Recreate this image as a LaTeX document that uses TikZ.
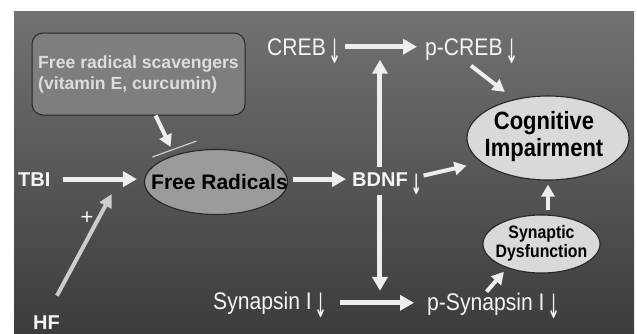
\documentclass[tikz,border=0pt]{standalone}
\usepackage{fontspec}
\usepackage{graphicx}
\setmainfont{Liberation Sans}
\newfontfamily\condfont{Liberation Sans}[FakeStretch=0.88]
\newfontfamily\symfont{DejaVu Sans}
\usetikzlibrary{arrows.meta,shapes.geometric,calc}
\definecolor{bgtop}{HTML}{727272}
\definecolor{bgbot}{HTML}{3C3C3C}
\definecolor{arrowc}{HTML}{EEEEEE}
\definecolor{hfc}{HTML}{CDCDCD}
\definecolor{txtc}{HTML}{F4F4F4}
\definecolor{scavfill}{HTML}{7E7E7E}
\definecolor{scavtxt}{HTML}{DDDDDD}
\definecolor{frfill}{HTML}{9B9B9B}
\definecolor{cogfill}{HTML}{D9D9D9}
\definecolor{edgec}{HTML}{262626}
\newcommand{\dnarr}{\rlap{\smash{\hspace{3pt}\raisebox{-8pt}{\scalebox{0.65}[1.4]{\symfont ↓}}}}}
\begin{document}
\begin{tikzpicture}[x=1pt,y=-1pt,
  lbl/.style={inner sep=0pt, text=txtc, anchor=base west},
  reglbl/.style={lbl, font=\condfont\fontsize{24}{26}\selectfont},
  boldlbl/.style={lbl, font=\bfseries\fontsize{20}{22}\selectfont},
  ell/.style={ellipse, draw=edgec, line width=1.1pt, inner sep=0pt, text=black},
  scavbox/.style={draw=edgec, line width=1pt, fill=scavfill, rounded corners=11pt,
    minimum width=213pt, minimum height=82pt, align=left, text=scavtxt,
    font=\bfseries\fontsize{17.6}{21}\selectfont, inner sep=0pt},
  bigarrow/.style={draw=arrowc, line width=5pt, -{Triangle[length=14pt,width=15pt]}},
  midarrow/.style={draw=arrowc, line width=4pt, -{Triangle[length=12pt,width=13pt]}},
  hfarrow/.style={draw=hfc, line width=4pt, -{Triangle[length=13pt,width=13pt]}},
  inhib/.style={draw=hfc, line width=1.2pt},
  plussign/.style={inner sep=0pt, text=txtc, font=\fontsize{22}{22}\selectfont}
]
\useasboundingbox (0,0) rectangle (637,333);
\shade[top color=bgtop, bottom color=bgbot] (14,11) rectangle (634,333);

% boxes and ellipses
\node[scavbox] (scav) at (138.5,74) {Free radical scavengers\\(vitamin E, curcumin)};
\node[ell, fill=frfill, minimum width=143pt, minimum height=65pt,
  font=\bfseries\fontsize{21}{22}\selectfont] (fr) at (216,182) {\makebox[0pt]{\hspace{7pt}Free Radicals}};
\node[ell, fill=cogfill, minimum width=162pt, minimum height=84pt,
  font=\condfont\bfseries\fontsize{25}{27}\selectfont] (cog) at (548,138)
  {\makebox[0pt]{\hspace{-8pt}\begin{tabular}{@{}c@{}}Cognitive\\Impairment\end{tabular}}};
\node[ell, fill=cogfill, minimum width=117pt, minimum height=58pt,
  font=\condfont\bfseries\fontsize{18}{18}\selectfont] (syn) at (541.5,244)
  {\makebox[0pt]{\begin{tabular}{@{}c@{}}Synaptic\\Dysfunction\end{tabular}}};

% labels
\node[boldlbl] (tbi) at (18,186) {TBI};
\node[boldlbl] (hf) at (33,329) {HF};
\node[boldlbl] (bdnf) at (352,186) {BDNF\dnarr};
\node[reglbl] (creb) at (267,55) {CREB\dnarr};
\node[reglbl] (pcreb) at (425,55) {p-CREB\dnarr};
\node[reglbl] (syn1) at (213,309) {Synapsin I\dnarr};
\node[reglbl] (psyn) at (427,310) {p-Synapsin I\dnarr};
\node[plussign] (plus) at (87,218) {+};

% helper coordinates
\coordinate (crebmid) at ($(creb.east)!0.5!(creb.east -| pcreb.west)$);
\coordinate (synmid) at ($(syn1.east)!0.5!(syn1.east -| psyn.west)$);
\coordinate (hfend) at ($(tbi.east)!0.74!(tbi.east -| fr.west)$);

% connectors
\draw[bigarrow, shorten <=12pt, shorten >=7pt] (tbi.east) -- (tbi.east -| fr.west);
\draw[hfarrow, shorten <=22pt, shorten >=17pt] (hf.north) -- (hfend);
\draw[midarrow, shorten >=9pt] ($(scav.south west)!0.58!(scav.south east)$) -- (fr.147);
\draw[inhib] ($(fr.147)+(-22,2)$) -- ($(fr.147)+(22,-14)$);
\draw[bigarrow, shorten <=5pt, shorten >=6pt] (fr.east |- bdnf.west) -- (bdnf.west);
\draw[bigarrow, shorten <=5pt, shorten >=13pt] (bdnf.north) -- (bdnf.north |- crebmid);
\draw[bigarrow, shorten <=9pt, shorten >=12pt] (bdnf.south) -- (bdnf.south |- synmid);
\draw[bigarrow, shorten <=19pt, shorten >=8pt] (creb.east) -- (creb.east -| pcreb.west);
\draw[bigarrow, shorten <=28pt, shorten >=13pt] (syn1.east) -- (syn1.east -| psyn.west);
\draw[midarrow, shorten <=16pt, shorten >=15pt] (bdnf.east) -- (cog.200);
\draw[midarrow, shorten <=9pt, shorten >=12pt] (pcreb.south) -- (cog.131);
\draw[midarrow, shorten <=4pt, shorten >=4pt] (syn.north -| cog.south) -- (cog.south);
\draw[midarrow, shorten <=1pt, shorten >=5pt] (psyn.north) -- (syn.215);
\end{tikzpicture}
\end{document}
